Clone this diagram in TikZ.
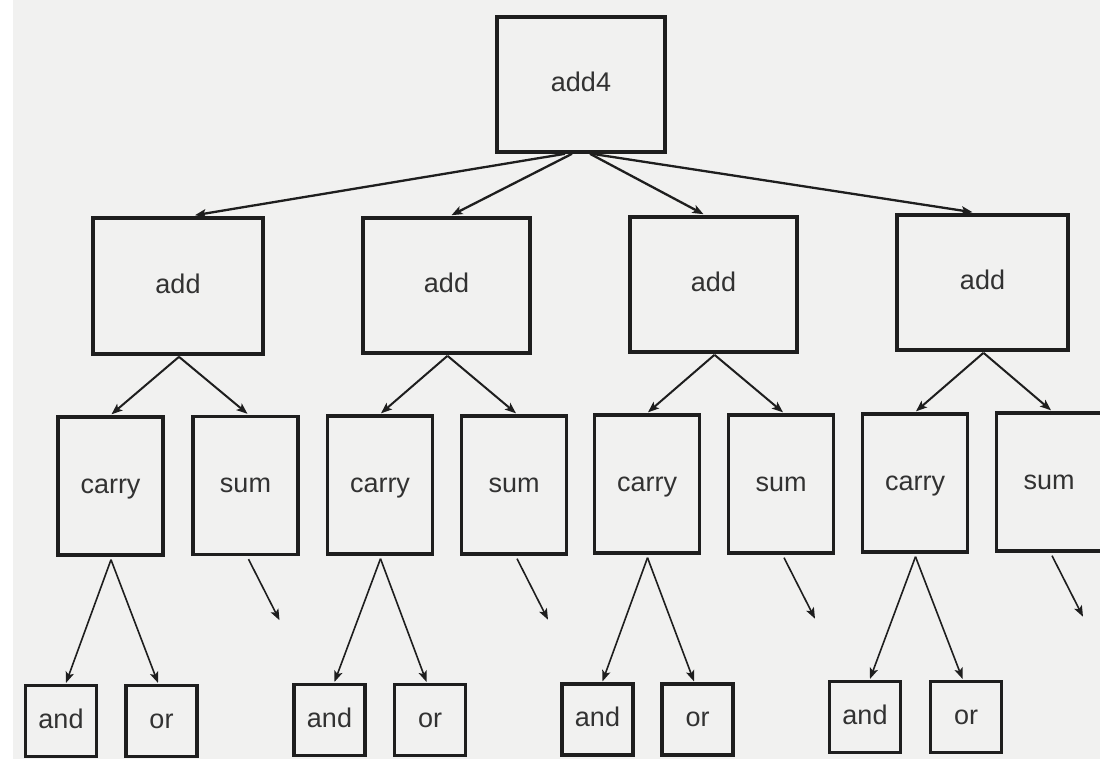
\documentclass[tikz,border=0pt]{standalone}
\usepackage{fontspec}
\setmainfont{Liberation Sans}
\usetikzlibrary{arrows.meta,calc}

\definecolor{paper}{RGB}{241,241,240}
\definecolor{ink}{RGB}{30,30,30}
\definecolor{txt}{RGB}{50,50,50}

\tikzset{
  unitbox/.style={draw=ink, fill=paper, inner sep=0pt, text=txt,
    text height=19.5pt, text depth=5.5pt,
    font=\fontsize{27}{30}\selectfont},
  bigbox/.style={unitbox, line width=3.6pt, minimum width=168pt, minimum height=135pt},
  midbox/.style={unitbox, line width=3.4pt, minimum width=105pt, minimum height=138pt},
  gatebox/.style={unitbox, line width=3.2pt, minimum width=71pt, minimum height=71pt},
  arr/.style={draw=ink, line width=#1,
    -{Stealth[length=11pt, width=8.5pt, inset=2.5pt]}},
  arr/.default=2pt
}

\begin{document}
\begin{tikzpicture}[x=1pt, y=-1pt]
  % page and paper
  \clip (0,0) rectangle (1100,764);
  \fill[white] (0,0) rectangle (1100,764);
  \fill[paper] (13,0) rectangle (1100,759);

  % root
  \node[bigbox] (top) at (581,84.5) {add4};

  % adders
  \node[bigbox, minimum width=170pt, minimum height=136pt] (a1) at (178,286) {add};
  \node[bigbox, minimum width=167pt] (a2) at (446.5,285.5) {add};
  \node[bigbox, minimum width=167pt] (a3) at (713.5,284.5) {add};
  \node[bigbox, minimum width=171pt] (a4) at (982.5,282.5) {add};

  % carry and sum
  \node[midbox] (c1) at (110.5,486) {carry};
  \node[midbox] (s1) at (245.5,485.5) {sum};
  \node[midbox] (c2) at (380,485) {carry};
  \node[midbox] (s2) at (514,485) {sum};
  \node[midbox] (c3) at (647,484) {carry};
  \node[midbox] (s3) at (781,484) {sum};
  \node[midbox] (c4) at (915,483) {carry};
  \node[midbox] (s4) at (1049,482) {sum};

  % gates
  \node[gatebox] (and1) at (61,721) {and};
  \node[gatebox] (or1)  at (161.5,721) {or};
  \node[gatebox] (and2) at (329.5,720) {and};
  \node[gatebox] (or2)  at (430,720) {or};
  \node[gatebox] (and3) at (597.5,719.5) {and};
  \node[gatebox] (or3)  at (697.5,719.5) {or};
  \node[gatebox] (and4) at (865,717) {and};
  \node[gatebox] (or4)  at (966,717) {or};

  % root to adders
  \draw[arr=2.3pt] ($(top.south)+(-16,0)$) -- ($(a1.north)+(17,-1)$);
  \draw[arr=2.3pt] ($(top.south)+(-9,0)$)  -- ($(a2.north)+(5,-1)$);
  \draw[arr=2.3pt] ($(top.south)+(9,0)$)   -- ($(a3.north)+(-10,-1)$);
  \draw[arr=2.3pt] ($(top.south)+(11,0)$)  -- ($(a4.north)+(-10,-1)$);

  % adders to carry and sum
  \foreach \i in {1,2,3,4} {
    \draw[arr=2pt] ($(a\i.south)+(1,1)$) -- ($(c\i.north)+(1,-1)$);
    \draw[arr=2pt] ($(a\i.south)+(1,1)$) -- ($(s\i.north)+(2,-1)$);
  }

  % carry to gates
  \foreach \i in {1,2,3,4} {
    \draw[arr=1.6pt] ($(c\i.south)+(0.5,3)$) -- ($(and\i.north)+(5,-1)$);
    \draw[arr=1.6pt] ($(c\i.south)+(0.5,3)$) -- ($(or\i.north)+(-3.5,-1)$);
  }

  % sum outputs
  \foreach \i in {1,2,3,4} {
    \coordinate (o\i) at ($(s\i.south)+(34,64)$);
    \draw[arr=1.6pt] ($(s\i.south)+(3,3)$) -- (o\i);
  }
\end{tikzpicture}
\end{document}
